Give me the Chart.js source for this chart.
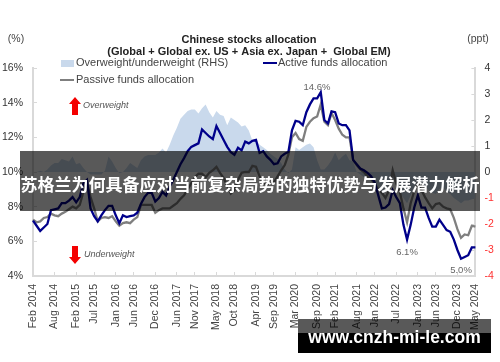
<!DOCTYPE html>
<html>
<head>
<meta charset="utf-8">
<script src="https://cdn.jsdelivr.net/npm/chart.js@4"></script>
<style>
  body { margin: 0; background: #fff; }
  #wrap { position: relative; width: 500px; height: 362px; overflow: hidden; }
  #chart { filter: blur(0.35px); }
  #banner {
    position: absolute; left: 20px; top: 151px; width: 460px; height: 60px;
    background: rgba(0,0,0,0.65); color: #fff;
    font: bold 17px "Noto Sans CJK SC"; text-align: center; line-height: 65px; white-space: nowrap;
  }
  #siteTop { position: absolute; left: 298px; top: 319px; width: 193px; height: 14px; background: rgba(0,0,0,0.65); }
  #site {
    position: absolute; left: 298px; top: 333px; width: 193px; height: 20px; background: #000;
  }
  #siteText {
    position: absolute; left: 298px; top: 325px; width: 193px; text-align: center; color: #fff;
    font: bold 17.5px "Liberation Sans"; line-height: 24px; white-space: nowrap;
  }
</style>
</head>
<body>
<div id="wrap">
  <canvas id="chart" width="500" height="362"></canvas>
  <div id="banner">苏格兰为何具备应对当前复杂局势的独特优势与发展潜力解析</div>
  <div id="siteTop"></div>
  <div id="site"></div>
  <div id="siteText">www.cnzh-mi-le.com</div>
</div>
<script>
const tickLabels = ['Feb 2014','Aug 2014','Feb 2015','Jul 2015','Jan 2016','Jun 2016','Dec 2016','Jun 2017','Nov 2017','May 2018','Oct 2018','Apr 2019','Sep 2019','Mar 2020','Sep 2020','Feb 2021','Aug 2021','Jan 2022','Jul 2022','Jan 2023','Jun 2023','Dec 2023','May 2024'];
const monthNames = ['Jan','Feb','Mar','Apr','May','Jun','Jul','Aug','Sep','Oct','Nov','Dec'];

// monthly, Feb 2014 to May 2024
const months = [];
for (let m = 1; m <= 124; m++) {
  months.push(monthNames[m % 12] + ' ' + (2014 + Math.floor(m / 12)));
}

const activeFunds = [
  7.2,6.9,6.6,6.8,7.0,7.8,7.85,7.9,8.2,8.2,
  8.35,8.55,8.25,8.55,9.35,9.55,7.9,7.45,7.15,7.5,
  7.8,8.05,8.05,7.5,7.05,7.5,7.4,7.45,7.5,7.65,
  8.15,8.55,8.8,8.8,8.3,8.5,8.85,8.65,9.15,9.55,
  10.0,10.45,10.8,11.2,11.45,11.55,11.65,12.45,12.25,12.05,
  11.9,12.65,12.25,11.85,11.45,11.15,11.0,11.4,11.25,11.75,
  11.65,11.8,11.85,11.1,11.2,10.9,10.7,10.45,10.5,10.9,
  11.05,11.15,12.4,12.95,12.9,12.7,13.45,13.9,14.25,14.25,
  14.6,13.0,12.8,13.5,13.45,12.8,12.7,12.7,12.4,10.7,
  10.45,10.2,10.1,9.95,9.75,9.4,8.65,7.9,7.95,8.15,
  8.95,8.55,8.2,6.95,6.1,6.95,7.95,8.65,7.95,7.95,
  7.35,6.85,6.85,7.25,6.95,6.65,6.55,6.1,5.5,5.0,
  5.1,5.2,5.65,5.65
];
const passiveFunds = [
  7.25,7.1,7.15,7.35,7.4,7.6,7.5,7.45,7.6,7.7,
  7.85,8.0,7.9,8.1,8.85,9.35,8.55,7.9,7.15,7.35,
  7.4,7.35,7.45,7.15,6.9,7.05,7.1,7.05,7.25,7.4,
  8.1,8.1,8.1,8.1,7.65,7.8,7.9,7.9,7.9,8.05,
  8.2,8.45,8.65,9.0,9.35,9.7,9.9,9.9,9.7,9.95,
  10.1,10.3,9.95,9.65,9.2,8.75,8.95,9.55,9.95,10.0,
  10.0,10.35,10.3,9.75,9.35,9.3,9.35,9.4,9.75,10.1,
  10.4,11.0,12.0,12.25,11.9,11.8,12.6,12.9,13.1,13.2,
  13.9,12.9,12.7,13.4,13.0,12.5,12.15,12.0,12.0,10.7,
  10.4,10.15,10.0,9.75,9.6,9.3,9.0,8.8,8.5,8.95,
  10.1,9.35,8.85,7.9,7.1,8.2,8.9,9.35,8.95,8.55,
  8.2,7.9,8.15,8.2,8.0,7.9,7.85,7.35,6.7,6.2,
  6.4,6.35,6.9,6.85
];
const overweight = [
  0,0,0.05,0,0.1,0.25,0.35,0.35,0.5,0.45,
  0.4,0.6,0.3,0.35,0.15,0,-0.1,-0.1,-0.1,-0.1,
  0.05,0.6,0.4,0.15,-0.05,0,0.15,0.35,0.25,0.15,
  0.45,0.6,0.65,0.65,0.65,0.75,0.9,0.75,1.05,1.4,
  1.7,2.05,2.2,2.35,2.4,2.4,2.25,2.45,2.6,2.3,
  2.1,2.35,2.2,2.15,1.8,2.1,2.0,1.9,1.75,1.8,
  1.6,1.2,1.2,1.05,0.95,0.85,0.7,0.6,0.5,0.35,
  0.1,-0.05,0.1,0.95,0.85,0.95,1.05,1.1,0.95,0.45,
  0.1,0.1,0.25,0.45,0.75,0.45,0.6,0.7,0.45,0.4,
  0,-0.1,-0.2,-0.25,-0.35,-0.4,-0.65,-0.9,-0.75,-0.5,
  -0.2,-0.55,-0.8,-1.0,-1.2,-0.9,-0.6,-0.4,-0.4,-0.55,
  -0.7,-0.8,-0.85,-0.65,-0.6,-0.75,-0.85,-1.0,-1.1,-1.2,
  -1.1,-1.1,-1.05,-1.0
];

const axisGrey = '#d9d9d9';
const labelFont = 'Liberation Sans';

function drawText(ctx, text, x, y, font, color, align) {
  ctx.font = font;
  ctx.fillStyle = color;
  ctx.textAlign = align || 'left';
  ctx.textBaseline = 'middle';
  ctx.fillText(text, x, y);
}

function drawArrow(ctx, x, y, dir) {
  // dir 1 = up, -1 = down, y is the tip
  ctx.fillStyle = '#f40000';
  ctx.beginPath();
  ctx.moveTo(x, y);
  ctx.lineTo(x + 6, y + dir * 7);
  ctx.lineTo(x + 3, y + dir * 7);
  ctx.lineTo(x + 3, y + dir * 18);
  ctx.lineTo(x - 3, y + dir * 18);
  ctx.lineTo(x - 3, y + dir * 7);
  ctx.lineTo(x - 6, y + dir * 7);
  ctx.closePath();
  ctx.fill();
}

const notes = {
  id: 'notes',
  afterDraw(chart) {
    const ctx = chart.ctx;
    ctx.save();
    drawText(ctx, '(%)', 16, 39, '10.5px ' + labelFont, '#444', 'center');
    drawText(ctx, '(ppt)', 478, 39, '10.5px ' + labelFont, '#444', 'center');
    drawText(ctx, 'Chinese stocks allocation', 249, 40, 'bold 11px ' + labelFont, '#222', 'center');
    drawText(ctx, '(Global + Global ex. US + Asia ex. Japan +  Global EM)', 249, 52, 'bold 11px ' + labelFont, '#222', 'center');

    ctx.fillStyle = '#c9d9ec';
    ctx.fillRect(61, 60, 13, 7);
    drawText(ctx, 'Overweight/underweight (RHS)', 76, 63, '11px ' + labelFont, '#444');
    ctx.fillStyle = '#00008b';
    ctx.fillRect(263, 62, 14, 2);
    drawText(ctx, 'Active funds allocation', 278, 63, '11px ' + labelFont, '#444');
    ctx.fillStyle = '#7f7f7f';
    ctx.fillRect(60, 79, 14, 2);
    drawText(ctx, 'Passive funds allocation', 76, 80, '11px ' + labelFont, '#444');

    drawArrow(ctx, 75, 97, 1);
    drawText(ctx, 'Overweight', 83, 105, 'italic 9px ' + labelFont, '#555');
    drawArrow(ctx, 75, 264, -1);
    drawText(ctx, 'Underweight', 84, 254, 'italic 9px ' + labelFont, '#555');

    drawText(ctx, '14.6%', 317, 87, '9.5px ' + labelFont, '#666', 'center');
    drawText(ctx, '6.1%', 407, 252, '9.5px ' + labelFont, '#666', 'center');
    drawText(ctx, '5.0%', 461, 270, '9.5px ' + labelFont, '#666', 'center');
    ctx.restore();
  }
};

new Chart(document.getElementById('chart'), {
  type: 'line',
  data: {
    labels: months,
    datasets: [
      { label: 'Active funds allocation', data: activeFunds, yAxisID: 'y', borderColor: '#00008b', borderWidth: 2.3, pointRadius: 0, order: 1 },
      { label: 'Passive funds allocation', data: passiveFunds, yAxisID: 'y', borderColor: '#7f7f7f', borderWidth: 2.3, pointRadius: 0, order: 2 },
      { label: 'Overweight/underweight (RHS)', data: overweight, yAxisID: 'y2', borderWidth: 0, pointRadius: 0, fill: 'origin', backgroundColor: '#c9d9ec', order: 3 }
    ]
  },
  plugins: [notes],
  options: {
    responsive: false,
    animation: false,
    layout: { padding: { top: 68 } },
    plugins: { legend: { display: false }, tooltip: { enabled: false } },
    scales: {
      x: {
        offset: false,
        afterFit(s) { s.height = 86; },
        afterBuildTicks(s) { s.ticks = s.ticks.filter(t => tickLabels.includes(months[t.value])); },
        border: { color: axisGrey, width: 2 },
        grid: { drawOnChartArea: false, tickLength: -4, tickColor: axisGrey },
        ticks: { autoSkip: false, maxRotation: 90, minRotation: 90, padding: 12, color: '#444', font: { family: labelFont, size: 10.5 } }
      },
      y: {
        position: 'left',
        min: 4, max: 16,
        afterFit(s) { s.width = 33; },
        border: { color: axisGrey, width: 2 },
        grid: { drawOnChartArea: false, tickLength: -4, tickColor: axisGrey },
        ticks: { stepSize: 2, padding: 14, color: '#333', callback: v => v + '%', font: { family: labelFont, size: 10.5 } }
      },
      y2: {
        position: 'right',
        min: -4, max: 4,
        afterFit(s) { s.width = 24; },
        border: { color: axisGrey, width: 2 },
        grid: { drawOnChartArea: false, tickLength: -4, tickColor: axisGrey },
        ticks: { stepSize: 1, padding: 13, color: c => c.tick.value < 0 ? '#ff3030' : '#333', font: { family: labelFont, size: 10.5, weight: 'normal' } }
      }
    }
  }
});
</script>
</body>
</html>
